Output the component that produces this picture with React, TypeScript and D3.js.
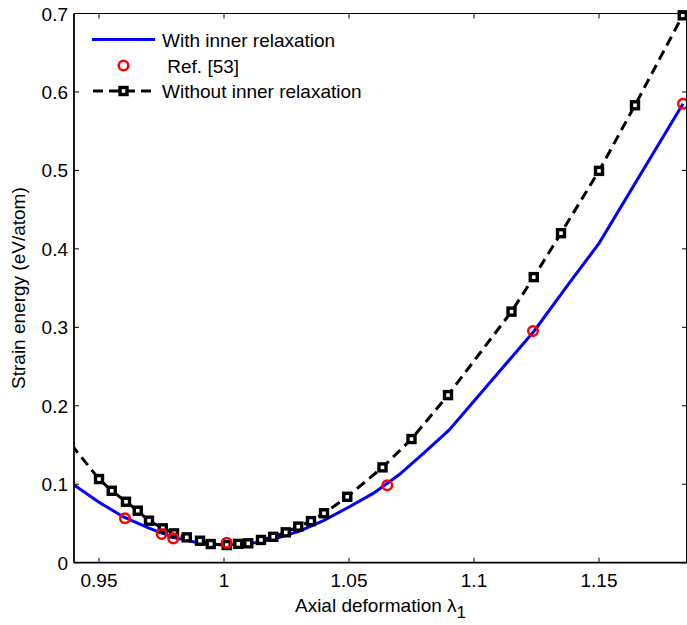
import React, { useEffect, useRef } from "react";
import * as d3 from "d3";

// blue curve: with inner relaxation
const relaxedX = [0.94, 0.95, 0.96, 0.97, 0.98, 0.99, 1.0, 1.01, 1.02, 1.03, 1.04, 1.05, 1.06, 1.07, 1.08, 1.09, 1.124, 1.138, 1.15, 1.1836];
const relaxedY = [0.099, 0.077, 0.058, 0.044, 0.032, 0.025, 0.0225, 0.024, 0.03, 0.04, 0.054, 0.071, 0.089, 0.112, 0.14, 0.169, 0.295, 0.356, 0.407, 0.585];

// red circles: Ref. [53]
const refX = [0.9604, 0.9751, 0.9797, 1.0011, 1.0653, 1.1236, 1.1836];
const refY = [0.0566, 0.0366, 0.031, 0.0255, 0.0986, 0.2952, 0.585];

// black dashed with squares: without inner relaxation
const unrelaxedX = [0.935, 0.95, 0.9551, 0.9608, 0.9655, 0.97, 0.9755, 0.98, 0.9851, 0.9904, 0.9947, 1.0011, 1.0057, 1.0097, 1.0148, 1.0197, 1.0247, 1.0297, 1.0348, 1.04, 1.0493, 1.0634, 1.075, 1.0896, 1.115, 1.1239, 1.1348, 1.15, 1.1644, 1.1835];
const unrelaxedY = [0.166, 0.1066, 0.0917, 0.0777, 0.0663, 0.0535, 0.0438, 0.0374, 0.0323, 0.028, 0.0238, 0.0225, 0.024, 0.0247, 0.029, 0.033, 0.0387, 0.046, 0.053, 0.063, 0.084, 0.1215, 0.1576, 0.2136, 0.32, 0.364, 0.42, 0.4994, 0.583, 0.6977];

const xTicks = [0.95, 1, 1.05, 1.1, 1.15];
const yTicks = [0, 0.1, 0.2, 0.3, 0.4, 0.5, 0.6, 0.7];

const legendLabels = ["With inner relaxation", " Ref. [53]", "Without inner relaxation"];

export default function App() {
  const ref = useRef<SVGSVGElement>(null);

  useEffect(() => {
    const svg = d3.select(ref.current);
    svg.selectAll("*").remove();

    const left = 74, right = 687, top = 13.5, bottom = 562.7;
    const x = d3.scaleLinear().domain([0.94, 1.1852]).range([left, right]);
    const y = d3.scaleLinear().domain([0, 0.7]).range([bottom, top]);
    const font = "'Liberation Sans', Arial, sans-serif";

    svg.append("defs").append("clipPath").attr("id", "plot")
      .append("rect").attr("x", left).attr("y", top - 6).attr("width", right - left + 6).attr("height", bottom - top + 6);

    const g = svg.append("g").attr("clip-path", "url(#plot)");

    const line = d3.line<[number, number]>().x((d) => x(d[0])).y((d) => y(d[1]));

    g.append("path")
      .attr("d", line(relaxedX.map((v, i) => [v, relaxedY[i]]))!)
      .attr("fill", "none").attr("stroke", "#0000ff").attr("stroke-width", 3);

    g.append("path")
      .attr("d", line(unrelaxedX.map((v, i) => [v, unrelaxedY[i]]))!)
      .attr("fill", "none").attr("stroke", "#000").attr("stroke-width", 3)
      .attr("stroke-dasharray", "10,6");

    g.selectAll("rect.sq").data(unrelaxedX.map((v, i) => [v, unrelaxedY[i]]))
      .enter().append("rect")
      .attr("x", (d) => x(d[0]) - 3.5).attr("y", (d) => y(d[1]) - 3.5)
      .attr("width", 7).attr("height", 7)
      .attr("fill", "#fff").attr("stroke", "#000").attr("stroke-width", 3.4);

    g.selectAll("circle").data(refX.map((v, i) => [v, refY[i]]))
      .enter().append("circle")
      .attr("cx", (d) => x(d[0])).attr("cy", (d) => y(d[1])).attr("r", 4.8)
      .attr("fill", "none").attr("stroke", "#ff0000").attr("stroke-width", 2.5);

    // box
    svg.append("line").attr("x1", left).attr("x2", right).attr("y1", top).attr("y2", top).attr("stroke", "#000").attr("stroke-width", 1);
    svg.append("line").attr("x1", right - 0.5).attr("x2", right - 0.5).attr("y1", top).attr("y2", bottom).attr("stroke", "#000").attr("stroke-width", 1);
    svg.append("line").attr("x1", left).attr("x2", right).attr("y1", bottom).attr("y2", bottom).attr("stroke", "#000").attr("stroke-width", 1.8);
    svg.append("line").attr("x1", left).attr("x2", left).attr("y1", top).attr("y2", bottom).attr("stroke", "#000").attr("stroke-width", 1.8);

    // ticks
    xTicks.forEach((t) => {
      svg.append("line").attr("x1", x(t)).attr("x2", x(t)).attr("y1", bottom).attr("y2", bottom - 5).attr("stroke", "#000");
      svg.append("line").attr("x1", x(t)).attr("x2", x(t)).attr("y1", top).attr("y2", top + 5).attr("stroke", "#000");
      svg.append("text").attr("x", x(t)).attr("y", 587).attr("text-anchor", "middle")
        .attr("font-family", font).attr("font-size", 19).text(String(t));
    });
    yTicks.forEach((t) => {
      svg.append("line").attr("x1", left).attr("x2", left + 5).attr("y1", y(t)).attr("y2", y(t)).attr("stroke", "#000");
      svg.append("line").attr("x1", right - 5).attr("x2", right).attr("y1", y(t)).attr("y2", y(t)).attr("stroke", "#000");
      svg.append("text").attr("x", 68).attr("y", y(t) + 7).attr("text-anchor", "end")
        .attr("font-family", font).attr("font-size", 19).text(String(t));
    });

    // axis labels
    const xl = svg.append("text").attr("x", (left + right) / 2).attr("y", 612).attr("text-anchor", "middle")
      .attr("font-family", font).attr("font-size", 19);
    xl.append("tspan").text("Axial deformation \u03bb");
    xl.append("tspan").attr("dy", 6).attr("font-size", 17).text("1");

    svg.append("text").attr("transform", `translate(25,${(top + bottom) / 2}) rotate(-90)`)
      .attr("text-anchor", "middle").attr("font-family", font).attr("font-size", 19)
      .text("Strain energy (eV/atom)");

    // legend
    const lg = svg.append("g");
    const rows = [39.5, 65.5, 91];
    lg.append("line").attr("x1", 92).attr("x2", 155).attr("y1", rows[0]).attr("y2", rows[0]).attr("stroke", "#0000ff").attr("stroke-width", 3);
    lg.append("circle").attr("cx", 123.5).attr("cy", rows[1]).attr("r", 4.8).attr("fill", "none").attr("stroke", "#ff0000").attr("stroke-width", 2.5);
    lg.append("line").attr("x1", 92).attr("x2", 155).attr("y1", rows[2]).attr("y2", rows[2]).attr("stroke", "#000").attr("stroke-width", 3).attr("stroke-dasharray", "10,6").attr("stroke-dashoffset", -1);
    lg.append("rect").attr("x", 120).attr("y", rows[2] - 3.5).attr("width", 7).attr("height", 7).attr("fill", "#fff").attr("stroke", "#000").attr("stroke-width", 3.4);
    legendLabels.forEach((s, i) => {
      lg.append("text").attr("x", 162).attr("y", rows[i] + 7).attr("font-family", font).attr("font-size", 19)
        .attr("xml:space", "preserve").style("white-space", "pre").text(s);
    });
  }, []);

  return (
    <svg ref={ref} width={687} height={625} style={{ position: "absolute", left: 0, top: 0, background: "#fff" }} />
  );
}
